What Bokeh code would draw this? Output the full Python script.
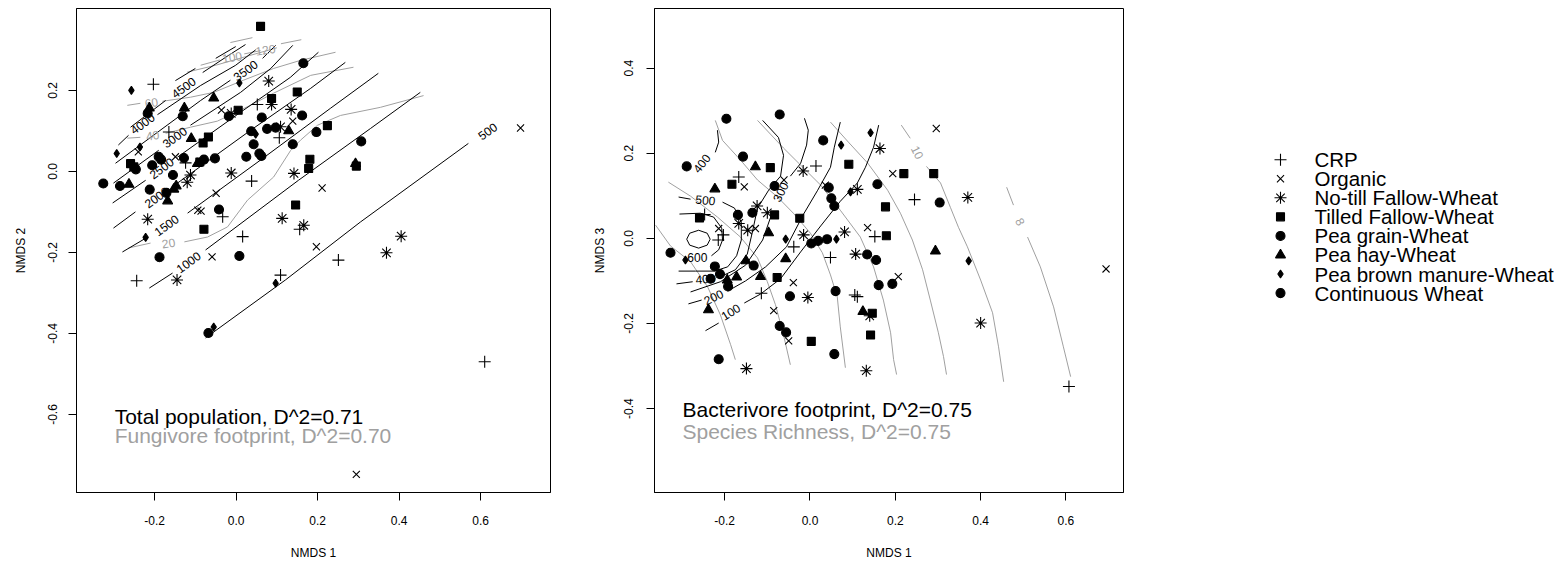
from bokeh.plotting import figure
from bokeh.layouts import row
from bokeh.models import FixedTicker, NumeralTickFormatter, Range1d
from bokeh.core.properties import value
from bokeh.embed import file_html
from bokeh.resources import INLINE

FONT = "Liberation Sans"
GRAY = "#a0a0a0"

# ---------------- legend categories ----------------
treatments = ["CRP", "Organic", "No-till Fallow-Wheat", "Tilled Fallow-Wheat",
              "Pea grain-Wheat", "Pea hay-Wheat", "Pea brown manure-Wheat", "Continuous Wheat"]

# ---------------- panel 1: NMDS1 vs NMDS2 ----------------
tp_crp_x = [-0.203, 0.052, -0.165, 0.106, -0.124, 0.038, 0.016, -0.244, 0.156, 0.251, 0.610, -0.033, 0.109]
tp_crp_y = [0.215, 0.165, 0.097, 0.083, 0.021, -0.024, -0.161, -0.270, -0.143, -0.219, -0.470, -0.112, -0.256]
tp_org_x = [-0.036, 0.139, -0.240, -0.149, -0.049, 0.211, -0.094, -0.086, -0.059, 0.197, 0.698, 0.295]
tp_org_y = [0.151, 0.124, 0.048, 0.036, -0.054, -0.041, -0.096, -0.098, -0.211, -0.186, 0.107, -0.748]
tp_nt_x = [0.080, -0.012, 0.087, 0.135, 0.109, -0.112, -0.120, -0.012, 0.142, -0.217, 0.113, 0.166, -0.145, 0.369, 0.405]
tp_nt_y = [0.223, 0.143, 0.165, 0.153, 0.110, -0.009, -0.027, -0.004, -0.005, -0.118, -0.116, -0.133, -0.268, -0.201, -0.160]
tp_tf_x = [0.060, 0.150, 0.005, 0.087, -0.081, -0.068, -0.259, -0.251, -0.089, 0.224, 0.181, 0.178, 0.146, -0.079, 0.295]
tp_tf_y = [0.358, 0.196, 0.151, 0.180, 0.070, 0.085, 0.019, 0.011, 0.023, 0.113, 0.030, 0.007, -0.083, -0.143, 0.013]
tp_pg_x = [-0.217, -0.131, -0.018, 0.063, 0.162, 0.076, 0.097, 0.037, 0.043, 0.139, 0.057, 0.062, 0.025, 0.197, -0.246]
tp_pg_y = [0.143, 0.136, 0.136, 0.133, 0.138, 0.105, 0.108, 0.099, 0.067, 0.067, 0.044, 0.038, 0.036, 0.097, 0.005]
tp_ph_x = [-0.055, -0.127, -0.213, 0.129, -0.110, -0.095, -0.263, -0.147, -0.153, -0.168, 0.293]
tp_ph_y = [0.181, 0.156, 0.156, 0.100, 0.081, 0.019, -0.032, -0.036, -0.044, -0.073, 0.019]
tp_pb_x = [-0.257, 0.008, 0.048, -0.236, -0.293, -0.222, 0.097, -0.055]
tp_pb_y = [0.200, 0.218, 0.092, 0.060, 0.044, -0.163, -0.276, -0.384]
tp_cw_x = [-0.206, -0.190, -0.184, -0.128, -0.079, -0.052, -0.155, -0.326, -0.285, -0.212, -0.171, -0.042, -0.188, 0.008, 0.307, 0.165, -0.068]
tp_cw_y = [0.015, 0.036, 0.029, 0.033, 0.029, 0.032, -0.009, -0.030, -0.036, -0.045, -0.053, -0.094, -0.212, -0.209, 0.074, 0.267, -0.399]

# total population contours (each level: list of line pieces)
tp_levels = [500, 1000, 1500, 2000, 2500, 3000, 3500, 4000, 4500, 5000]
tp_cx = [
    [[-0.075, 0.121, 0.305, 0.570]],
    [[-0.213, -0.156], [-0.075, 0.153, 0.330, 0.452]],
    [[-0.279, -0.222], [-0.119, 0.060, 0.232, 0.349]],
    [[-0.301, -0.247], [-0.144, 0.035, 0.183, 0.268]],
    [[-0.303, -0.222], [-0.144, 0.011, 0.133, 0.202]],
    [[-0.301, -0.190], [-0.112, 0.011, 0.085, 0.139]],
    [[-0.296, -0.087, -0.014], [0.065, 0.097]],
    [[-0.289, -0.264], [-0.193, -0.087, -0.001, 0.048]],
    [[-0.259, -0.173], [-0.082, -0.019, 0.023]],
    [[-0.149, -0.100], [-0.050, -0.001]],
]
tp_cy = [
    [[-0.411, -0.268, -0.125, 0.069]],
    [[-0.288, -0.251], [-0.194, -0.022, 0.106, 0.195]],
    [[-0.199, -0.165], [-0.103, 0.028, 0.156, 0.242]],
    [[-0.140, -0.100], [-0.029, 0.101, 0.205, 0.269]],
    [[-0.078, -0.022], [0.035, 0.146, 0.232, 0.294]],
    [[-0.029, 0.052], [0.114, 0.195, 0.254, 0.311]],
    [[0.020, 0.175, 0.225], [0.279, 0.311]],
    [[0.065, 0.089], [0.140, 0.212, 0.262, 0.300]],
    [[0.109, 0.175], [0.244, 0.286, 0.313]],
    [[0.224, 0.254], [0.279, 0.308]],
]
tp_lab_text = ["500", "1000", "1500", "2000", "2500", "3000", "3500", "4000", "4500"]
tp_lab_x = [0.617, -0.117, -0.171, -0.195, -0.183, -0.151, 0.023, -0.230, -0.129]
tp_lab_y = [0.099, -0.224, -0.133, -0.064, 0.008, 0.084, 0.249, 0.118, 0.207]

# fungivore footprint contours
ff_levels = [20, 40, 60, 80, 100, 120]
ff_cx = [
    [[-0.264, -0.210], [-0.127, -0.070, -0.021, 0.028, 0.092, 0.134, 0.158, 0.200, 0.256, 0.354, 0.460]],
    [[-0.267, -0.235], [-0.173, -0.112, -0.046, 0.035, 0.092, 0.183, 0.288]],
    [[-0.267, -0.235], [-0.181, -0.112, -0.055, 0.018, 0.092, 0.158, 0.244]],
    [[-0.120, -0.050, 0.030, 0.100]],
    [[-0.087, -0.040], [0.020, 0.060]],
    [[-0.014, 0.040], [0.110, 0.160]],
]
ff_cy = [
    [[-0.189, -0.177], [-0.174, -0.162, -0.137, -0.071, -0.014, 0.052, 0.077, 0.114, 0.138, 0.158, 0.187]],
    [[0.082, 0.084], [0.094, 0.109, 0.124, 0.163, 0.193, 0.237, 0.257]],
    [[0.163, 0.168], [0.173, 0.183, 0.195, 0.225, 0.254, 0.274, 0.294]],
    [[0.245, 0.262, 0.285, 0.305]],
    [[0.262, 0.275], [0.290, 0.298]],
    [[0.318, 0.330], [0.315, 0.325]],
]
ff_lab_text = ["20", "40", "60", "100", "120"]
ff_lab_x = [-0.166, -0.205, -0.208, -0.010, 0.072]
ff_lab_y = [-0.177, 0.089, 0.170, 0.282, 0.300]

# ---------------- panel 2: NMDS1 vs NMDS3 ----------------
bf_crp_x = [-0.167, 0.014, -0.247, -0.203, -0.215, -0.114, -0.038, 0.048, 0.105, 0.111, 0.152, 0.245, 0.607]
bf_crp_y = [0.144, 0.170, 0.056, 0.008, -0.004, -0.129, -0.020, -0.045, -0.133, -0.137, 0.004, 0.091, -0.348]
bf_org_x = [-0.154, -0.061, 0.036, -0.214, -0.128, -0.039, -0.085, -0.050, 0.135, 0.194, 0.207, 0.296, 0.694]
bf_org_y = [0.121, 0.137, 0.125, 0.023, 0.023, -0.104, -0.170, -0.241, 0.025, 0.152, -0.090, 0.258, -0.072]
bf_nt_x = [-0.016, 0.111, 0.164, -0.167, -0.124, -0.100, -0.146, -0.015, 0.081, 0.107, -0.005, 0.140, 0.370, 0.400, -0.149, 0.132]
bf_nt_y = [0.158, 0.115, 0.211, 0.035, 0.076, 0.060, 0.019, 0.008, 0.015, -0.037, -0.139, -0.182, 0.096, -0.199, -0.306, -0.311]
bf_tf_x = [-0.093, -0.183, 0.091, -0.259, -0.083, -0.024, 0.177, 0.220, 0.290, 0.179, -0.077, 0.146, 0.142, 0.003]
bf_tf_y = [0.166, 0.127, 0.174, 0.048, 0.055, 0.047, 0.074, 0.152, 0.152, 0.006, -0.092, -0.176, -0.227, -0.242]
bf_pg_x = [-0.196, -0.071, -0.289, -0.157, -0.083, 0.031, 0.044, 0.050, 0.057, 0.158, 0.304, -0.169, -0.135, 0.003, 0.019, 0.040]
bf_pg_y = [0.281, 0.291, 0.169, 0.192, 0.123, 0.230, 0.119, 0.094, 0.076, 0.127, 0.084, 0.055, 0.060, -0.012, -0.006, -0.002]
bf_ph_x = [-0.128, -0.223, -0.097, -0.150, -0.057, -0.172, -0.194, -0.116, -0.238, 0.124, 0.294]
bf_ph_y = [0.168, 0.116, 0.013, -0.053, -0.048, -0.091, -0.098, -0.090, -0.168, -0.172, -0.030]
bf_pb_x = [0.073, 0.142, 0.095, -0.057, 0.062, -0.292, 0.372]
bf_pb_y = [0.219, 0.248, 0.109, -0.002, -0.002, -0.051, -0.053]
bf_cw_x = [0.134, 0.155, -0.327, -0.223, -0.211, -0.132, -0.233, -0.192, -0.047, 0.060, 0.161, 0.193, -0.071, -0.056, 0.057, -0.214]
bf_cw_y = [-0.038, -0.051, -0.034, -0.066, -0.084, -0.064, -0.095, -0.113, -0.136, -0.124, -0.110, -0.107, -0.206, -0.221, -0.272, -0.284]

# bacterivore footprint contours
bc_levels = [100, 200, 300, 400, 400, 500, 600, 700]
bc_cx = [
    [[-0.245, -0.214], [-0.154, -0.116, -0.069, -0.022, 0.025, 0.071, 0.111, 0.130, 0.149, 0.161]],
    [[-0.285, -0.254], [-0.193, -0.151, -0.104, -0.055, -0.015, 0.018, 0.048, 0.057, 0.071]],
    [[-0.280, -0.210, -0.151, -0.111, -0.088], [-0.046, -0.022, -0.008, -0.004, -0.013]],
    [[-0.313, -0.275], [-0.212, -0.175, -0.147, -0.135, -0.123, -0.097, -0.069, -0.062, -0.074, -0.111]],
    [[-0.217, -0.214, -0.222]],
    [[-0.308, -0.280], [-0.205, -0.177, -0.161, -0.161, -0.172, -0.193, -0.224, -0.268, -0.308]],
    [[-0.306, -0.257, -0.226, -0.207, -0.205, -0.214, -0.231]],
    [[-0.234, -0.241, -0.261, -0.282, -0.289, -0.282, -0.261, -0.241, -0.234]],
]
bc_cy = [
    [[-0.217, -0.199], [-0.152, -0.131, -0.095, -0.032, 0.029, 0.087, 0.130, 0.167, 0.214, 0.266]],
    [[-0.154, -0.145], [-0.124, -0.100, -0.067, -0.020, 0.057, 0.113, 0.167, 0.214, 0.273]],
    [[-0.126, -0.102, -0.063, -0.004, 0.062], [0.146, 0.176, 0.219, 0.254, 0.282]],
    [[-0.107, -0.102], [-0.091, -0.074, -0.037, 0.015, 0.071, 0.113, 0.146, 0.195, 0.237, 0.277]],
    [[0.254, 0.226, 0.202]],
    [[0.097, 0.092], [0.085, 0.071, 0.038, -0.004, -0.041, -0.067, -0.077, -0.077, -0.077]],
    [[0.057, 0.059, 0.050, 0.024, -0.004, -0.027, -0.041]],
    [[-0.002, 0.012, 0.019, 0.012, -0.002, -0.016, -0.023, -0.016, -0.002]],
]
bc_lab_text = ["100", "200", "300", "400", "400", "500", "600"]
bc_lab_x = [-0.186, -0.226, -0.069, -0.245, -0.254, -0.245, -0.264]
bc_lab_y = [-0.173, -0.138, 0.109, -0.095, 0.176, 0.090, -0.046]

# species richness contours
sr_levels = [20, 18, 16, 14, 12, 10, 8]
sr_cx = [
    [[-0.362, -0.327, -0.280, -0.240, -0.210, -0.186, -0.175]],
    [[-0.332, -0.280, -0.217, -0.163, -0.123, -0.100, -0.081, -0.062, -0.046]],
    [[-0.222, -0.205, -0.163, -0.123, -0.076, -0.039, 0.001, 0.029, 0.048, 0.064, 0.071, 0.083]],
    [[-0.123, -0.062, -0.022, 0.025, 0.071, 0.118, 0.149, 0.172, 0.189, 0.196, 0.203]],
    [[0.048, 0.090, 0.135, 0.182, 0.212, 0.240, 0.264, 0.282, 0.301, 0.313, 0.320]],
    [[0.214, 0.235], [0.273, 0.306, 0.329, 0.348, 0.369, 0.400, 0.428, 0.442, 0.454]],
    [[0.461, 0.477], [0.510, 0.540, 0.571, 0.594, 0.611]],
]
sr_cy = [
    [[0.031, -0.018, -0.055, -0.114, -0.180, -0.250, -0.285]],
    [[0.132, 0.099, 0.050, 0.003, -0.046, -0.102, -0.156, -0.227, -0.297]],
    [[0.277, 0.230, 0.184, 0.137, 0.097, 0.059, 0.012, -0.034, -0.086, -0.138, -0.208, -0.304]],
    [[0.277, 0.212, 0.172, 0.125, 0.066, 0.003, -0.067, -0.145, -0.222, -0.285, -0.320]],
    [[0.273, 0.226, 0.177, 0.113, 0.059, -0.004, -0.074, -0.145, -0.222, -0.278, -0.320]],
    [[0.266, 0.235], [0.169, 0.130, 0.073, 0.026, -0.020, -0.098, -0.175, -0.255, -0.337]],
    [[0.120, 0.078], [0.003, -0.067, -0.161, -0.255, -0.325]],
]
sr_lab_text = ["10", "8"]
sr_lab_x = [0.252, 0.493]
sr_lab_y = [0.202, 0.039]

# ---------------- styling helpers ----------------
markers = ["cross", "x", "asterisk", "square", "circle", "triangle", "diamond", "circle"]
msizes = [12, 10, 12, 8, 9, 10, 8, 9]


def flatten(cx, cy):
    xs, ys = [], []
    for lx, ly in zip(cx, cy):
        for a, b in zip(lx, ly):
            xs.append(a)
            ys.append(b)
    return xs, ys


def style(p):
    p.outline_line_color = "black"
    p.outline_line_width = 1
    p.xgrid.visible = False
    p.ygrid.visible = False
    p.background_fill_color = "white"
    p.border_fill_color = "white"
    for ax in (p.xaxis[0], p.yaxis[0]):
        ax.axis_line_color = "black"
        ax.major_tick_line_color = "black"
        ax.major_tick_out = 8
        ax.major_tick_in = 0
        ax.minor_tick_out = 0
        ax.minor_tick_in = 0
        ax.major_label_text_font = FONT
        ax.major_label_text_font_size = "12px"
        ax.major_label_text_color = "black"
        ax.axis_label_text_font = FONT
        ax.axis_label_text_font_size = "12px"
        ax.axis_label_text_font_style = "normal"
        ax.axis_label_text_color = "black"
        ax.formatter = NumeralTickFormatter(format="0.0")
    p.xaxis[0].major_label_standoff = 15
    p.xaxis[0].axis_label_standoff = 18
    p.yaxis[0].major_label_orientation = "vertical"


def draw_points(p, xs_list, ys_list):
    for x, y, m, s in zip(xs_list, ys_list, markers, msizes):
        p.scatter(x, y, marker=m, size=s, fill_color="black", line_color="black", line_width=1.1)


def draw_labels(p, xs, ys, texts, angle, color):
    p.text(xs, ys, text=texts, angle=angle, text_font=value(FONT), text_font_size="12px",
           text_color=color, text_align="center", text_baseline="middle")


H = 562

# ---------------- panel 1 ----------------
p1 = figure(width=588, height=H, x_range=Range1d(-0.3917, 0.7715), y_range=Range1d(-0.7926, 0.402),
            output_backend="svg", toolbar_location=None,
            min_border_left=76, min_border_right=38, min_border_top=8, min_border_bottom=69,
            x_axis_label="NMDS 1", y_axis_label="NMDS 2")
style(p1)
p1.xaxis[0].ticker = FixedTicker(ticks=[-0.2, 0.0, 0.2, 0.4, 0.6])
p1.yaxis[0].ticker = FixedTicker(ticks=[-0.6, -0.4, -0.2, 0.0, 0.2])
p1.yaxis[0].major_label_standoff = 11
p1.yaxis[0].axis_label_standoff = 18

xs, ys = flatten(ff_cx, ff_cy)
p1.multi_line(xs, ys, line_color=GRAY, line_width=1)
xs, ys = flatten(tp_cx, tp_cy)
p1.multi_line(xs, ys, line_color="black", line_width=1)
draw_labels(p1, ff_lab_x, ff_lab_y, ff_lab_text, 0.15, GRAY)
draw_labels(p1, tp_lab_x, tp_lab_y, tp_lab_text, 0.63, "black")
draw_points(p1, [tp_crp_x, tp_org_x, tp_nt_x, tp_tf_x, tp_pg_x, tp_ph_x, tp_pb_x, tp_cw_x],
            [tp_crp_y, tp_org_y, tp_nt_y, tp_tf_y, tp_pg_y, tp_ph_y, tp_pb_y, tp_cw_y])
p1.text([-0.298], [-0.605], text=["Total population, D^2=0.71"], text_font=value(FONT),
        text_font_size="21px", text_color="black", text_baseline="middle")
p1.text([-0.298], [-0.652], text=["Fungivore footprint, D^2=0.70"], text_font=value(FONT),
        text_font_size="21px", text_color=GRAY, text_baseline="middle")

# ---------------- panel 2 ----------------
p2 = figure(width=545, height=H, x_range=Range1d(-0.3645, 0.7349), y_range=Range1d(-0.5971, 0.5399),
            output_backend="svg", toolbar_location=None,
            min_border_left=66, min_border_right=10, min_border_top=8, min_border_bottom=69,
            x_axis_label="NMDS 1", y_axis_label="NMDS 3")
style(p2)
p2.xaxis[0].ticker = FixedTicker(ticks=[-0.2, 0.0, 0.2, 0.4, 0.6])
p2.yaxis[0].ticker = FixedTicker(ticks=[-0.4, -0.2, 0.0, 0.2, 0.4])
p2.yaxis[0].major_label_standoff = 13
p2.yaxis[0].axis_label_standoff = 15

xs, ys = flatten(sr_cx, sr_cy)
p2.multi_line(xs, ys, line_color=GRAY, line_width=1)
xs, ys = flatten(bc_cx, bc_cy)
p2.multi_line(xs, ys, line_color="black", line_width=1)
draw_labels(p2, sr_lab_x, sr_lab_y, sr_lab_text, -1.1, GRAY)
draw_labels(p2, bc_lab_x, bc_lab_y, bc_lab_text, [0.55, 0.45, 1.1, 0.1, 0.9, -0.1, 0.0], "black")
draw_points(p2, [bf_crp_x, bf_org_x, bf_nt_x, bf_tf_x, bf_pg_x, bf_ph_x, bf_pb_x, bf_cw_x],
            [bf_crp_y, bf_org_y, bf_nt_y, bf_tf_y, bf_pg_y, bf_ph_y, bf_pb_y, bf_cw_y])
p2.text([-0.299], [-0.402], text=["Bacterivore footprint, D^2=0.75"], text_font=value(FONT),
        text_font_size="21px", text_color="black", text_baseline="middle")
p2.text([-0.299], [-0.453], text=["Species Richness, D^2=0.75"], text_font=value(FONT),
        text_font_size="21px", text_color=GRAY, text_baseline="middle")

# ---------------- legend panel (frame aligned with the plot frames: 8..493 px) ----------------
p3 = figure(width=428, height=H, x_range=Range1d(0, 428), y_range=Range1d(493, 8),
            output_backend="svg", toolbar_location=None,
            x_axis_location=None, y_axis_location=None,
            min_border_left=0, min_border_right=0, min_border_top=8, min_border_bottom=69)
p3.grid.visible = False
p3.outline_line_color = None
rows_y = [159.5 + 19.1 * i for i in range(len(treatments))]
for yy, m, s in zip(rows_y, markers, msizes):
    p3.scatter([147], [yy], marker=m, size=s, fill_color="black", line_color="black", line_width=1.1)
p3.text([181] * len(treatments), rows_y, text=treatments, text_font=value(FONT),
        text_font_size="20.5px", text_color="black", text_baseline="middle")

layout = row(p1, p2, p3)
open("out.html", "w").write(file_html(layout, INLINE))
